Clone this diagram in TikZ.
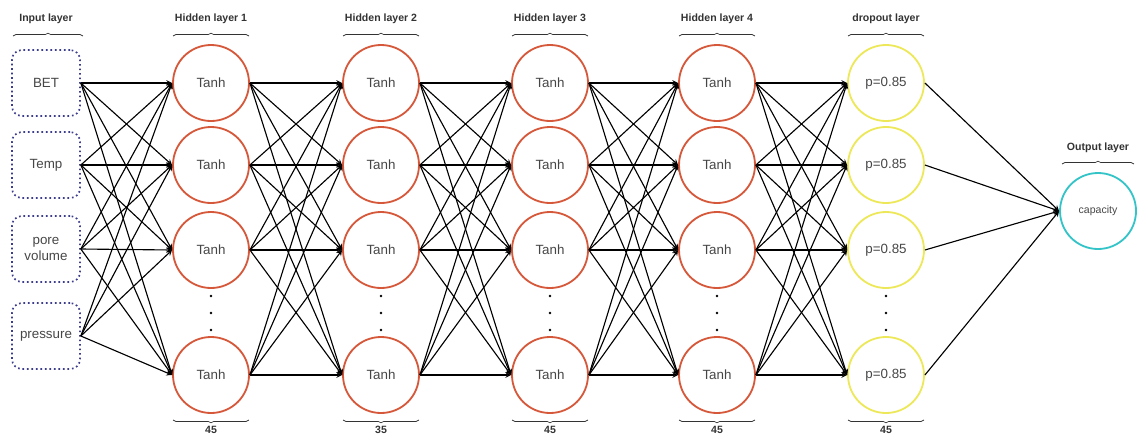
\documentclass[tikz,border=0pt]{standalone}
\usepackage{fontspec}
\setmainfont{Liberation Sans}
\usepackage{xcolor}
\usetikzlibrary{decorations.pathreplacing}

\definecolor{tanhred}{RGB}{214,88,58}
\definecolor{dropyellow}{RGB}{236,232,90}
\definecolor{outcyan}{RGB}{52,196,200}
\definecolor{inblue}{RGB}{60,60,140}
\definecolor{txtgray}{RGB}{70,70,70}

\tikzset{
    inbox/.style={draw=inblue, dotted, line width=1.2pt, rounded corners=7pt,
        minimum width=68*0.025cm, minimum height=66*0.025cm, align=center,
        text=txtgray, font=\fontsize{9.5}{11}\selectfont},
    neuron/.style={circle, line width=1.3pt, minimum size=76*0.025cm, inner sep=0pt,
        text=txtgray, font=\fontsize{9.5}{11}\selectfont},
    tanhnode/.style={neuron, draw=tanhred},
    dropnode/.style={neuron, draw=dropyellow},
    outnode/.style={neuron, draw=outcyan, font=\fontsize{7.5}{9}\selectfont},
    layername/.style={font=\bfseries\fontsize{7.5}{9}\selectfont, text=black!80},
    countname/.style={font=\bfseries\fontsize{7.5}{9}\selectfont, text=black!80},
    brace/.style={decorate, decoration={brace, amplitude=2pt}, line width=0.5pt, black!80},
    link/.style={->, >=stealth, line width=0.8pt}
}

\begin{document}
\begin{tikzpicture}[x=0.025cm, y=-0.025cm]
    \useasboundingbox (0,0) rectangle (1143,435);

    % inputs
    \node[inbox] (in1) at (46,83) {BET};
    \node[inbox] (in2) at (46,165) {Temp};
    \node[inbox] (in3) at (46,249) {pore\\volume};
    \node[inbox] (in4) at (46,336) {pressure};

    % hidden layers
    \foreach \c/\x in {1/211, 2/381, 3/550, 4/717} {
        \foreach \r/\y in {1/83, 2/165, 3/250, 4/375}
            \node[tanhnode] (h\c\r) at (\x,\y) {Tanh};
        \foreach \y in {296, 313, 330}
            \fill (\x,\y) circle (1pt);
    }

    % dropout layer
    \foreach \r/\y in {1/83, 2/165, 3/250, 4/375}
        \node[dropnode] (d\r) at (886,\y) {p=0.85};
    \foreach \y in {296, 313, 330}
        \fill (886,\y) circle (1pt);

    % output
    \node[outnode] (out) at (1098,211) {capacity};

    % connections
    \foreach \i in {1,...,4}
        \foreach \j in {1,...,4}
            \draw[link] (in\i.east) -- (h1\j.west);
    \foreach \c/\n in {1/2, 2/3, 3/4}
        \foreach \i in {1,...,4}
            \foreach \j in {1,...,4}
                \draw[link] (h\c\i.east) -- (h\n\j.west);
    \foreach \i in {1,...,4}
        \foreach \j in {1,...,4}
            \draw[link] (h4\i.east) -- (d\j.west);
    \foreach \i in {1,...,4}
        \draw[link] (d\i.east) -- (out.west);

    % layer titles and braces
    \node[layername] (tin) at (46,19) {Input layer};
    \draw[brace] (13,36) -- (83,36);
    \foreach \c/\x in {1/211, 2/381, 3/550, 4/717} {
        \node[layername] (th\c) at (\x,19) {Hidden layer \c};
        \draw[brace] (\x-38,36) -- (\x+38,36);
    }
    \node[layername] (tdrop) at (886,19) {dropout layer};
    \draw[brace] (848,36) -- (924,36);
    \node[layername] (tout) at (1098,148) {Output layer};
    \draw[brace] (1062,164) -- (1134,164);

    % neuron counts
    \foreach \x/\n in {211/45, 381/35, 550/45, 717/45, 886/45} {
        \draw[brace] (\x+38,420) -- (\x-38,420);
        \node[countname] (n\x) at (\x,430) {\n};
    }
\end{tikzpicture}
\end{document}
